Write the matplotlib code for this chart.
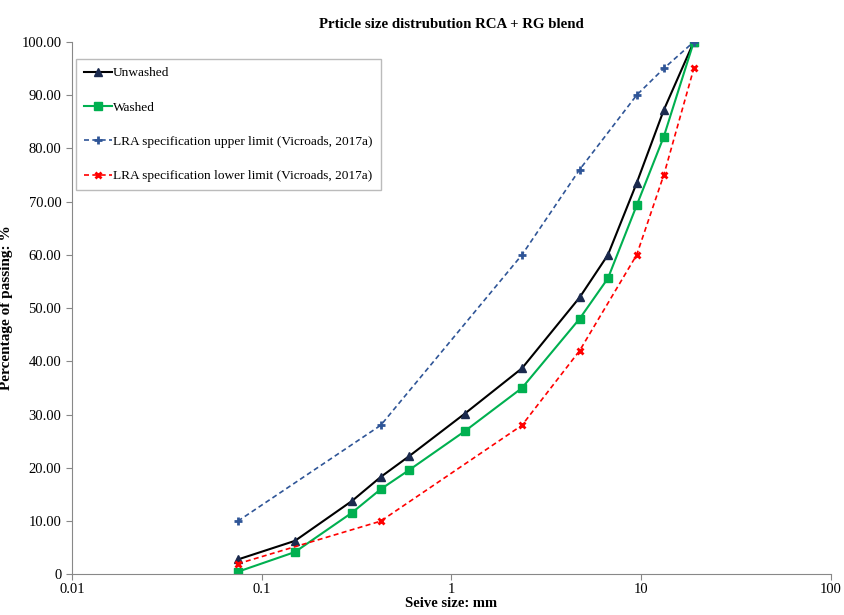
import matplotlib.pyplot as plt
from matplotlib.ticker import FixedLocator, FixedFormatter

plt.rcParams['font.family'] = ['Liberation Serif', 'DejaVu Serif']

sieve = [0.075, 0.15, 0.3, 0.425, 0.6, 1.18, 2.36, 4.75, 6.7, 9.5, 13.2, 19]
unwashed = [2.8, 6.3, 13.8, 18.3, 22.2, 30.2, 38.7, 52.0, 60.0, 73.5, 87.2, 100.0]
washed = [0.5, 4.2, 11.6, 16.0, 19.6, 26.9, 35.0, 48.0, 55.6, 69.3, 82.2, 100.0]

spec_sieve = [0.075, 0.425, 2.36, 4.75, 9.5, 13.2, 19]
upper = [10, 28, 60, 76, 90, 95, 100]
lower = [2, 10, 28, 42, 60, 75, 95]

x_ticks = [0.01, 0.1, 1, 10, 100]
x_labels = ['0.01', '0.1', '1', '10', '100']
y_ticks = [0, 10, 20, 30, 40, 50, 60, 70, 80, 90, 100]
y_labels = ['0'] + ['%.2f' % v for v in y_ticks[1:]]

fig = plt.figure(figsize=(8.45, 6.15), dpi=100)
ax = fig.add_axes([0.085, 0.066, 0.898, 0.866])

ax.plot(sieve, unwashed, color='black', lw=1.5, marker='^', ms=6,
        mfc='#1b2a4e', mec='#1b2a4e', label='Unwashed')
ax.plot(sieve, washed, color='#00b050', lw=1.5, marker='s', ms=5.5,
        label='Washed')
ax.plot(spec_sieve, upper, color='#2f5597', lw=1.2, ls='--', dashes=(3, 2),
        marker='+', ms=6, mew=2,
        label='LRA specification upper limit (Vicroads, 2017a)')
ax.plot(spec_sieve, lower, color='#ff0000', lw=1.2, ls='--', dashes=(3, 2),
        marker='x', ms=4.5, mew=2,
        label='LRA specification lower limit (Vicroads, 2017a)')

ax.set_xscale('log')
ax.set_xlim(0.01, 100)
ax.set_ylim(0, 100)
ax.xaxis.set_major_locator(FixedLocator(x_ticks))
ax.xaxis.set_major_formatter(FixedFormatter(x_labels))
ax.xaxis.set_minor_locator(FixedLocator([]))
ax.yaxis.set_major_locator(FixedLocator(y_ticks))
ax.yaxis.set_major_formatter(FixedFormatter(y_labels))

for side in ['top', 'right']:
    ax.spines[side].set_visible(False)
for side in ['left', 'bottom']:
    ax.spines[side].set_color('#888888')
ax.tick_params(colors='#888888', labelcolor='black', labelsize=10.5, length=4)
ax.tick_params(axis='x', pad=2)

ax.set_title('Prticle size distrubution RCA + RG blend', fontsize=10.7,
             fontweight='bold', pad=10)
ax.set_xlabel('Seive size: mm', fontsize=10.5, fontweight='bold', labelpad=1)
ax.set_ylabel('Percentage of passing: %', fontsize=11, fontweight='bold',
              labelpad=6)

leg = ax.legend(loc='upper left', bbox_to_anchor=(0.0, 0.975), fontsize=9.6,
                frameon=True, fancybox=False, edgecolor='#aaaaaa',
                handlelength=2.1, handletextpad=0.1, labelspacing=1.65,
                borderpad=0.6, borderaxespad=0.3)
leg.get_frame().set_linewidth(1.0)

fig.savefig('out.png', dpi=100)
